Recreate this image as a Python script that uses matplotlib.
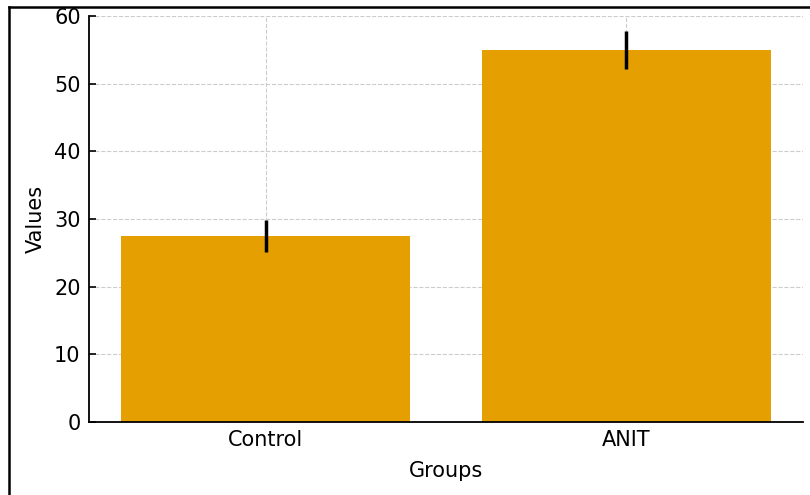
import matplotlib
matplotlib.use("Agg")
import matplotlib.pyplot as plt
from matplotlib.lines import Line2D

groups = ["Control", "ANIT"]
values = [27.5, 55.0]
errors = [2.4, 2.8]
yticks = [0, 10, 20, 30, 40, 50, 60]

fig = plt.figure(figsize=(8.1, 4.95), dpi=100)
ax = fig.add_axes([89/810, 1-422/495, (803-89)/810, (422-16)/495])

x = list(range(len(groups)))
ax.bar(x, values, width=0.8, color="#E69F00", zorder=2)
ax.errorbar(x, values, yerr=errors, fmt="none", ecolor="black", elinewidth=2.5, capsize=0, zorder=3)

ax.set_xticks(x)
ax.set_xticklabels(groups)
ax.set_xlim(-0.49, 1.49)
ax.set_ylim(0, 60)
ax.set_yticks(yticks)
ax.tick_params(direction="in", labelsize=15, length=5, width=1.2, pad=6)
ax.set_xlabel("Groups", fontsize=15, labelpad=8)
ax.set_ylabel("Values", fontsize=15, labelpad=6)
ax.grid(True, linestyle="--", color="#cccccc", linewidth=0.8, zorder=0)
ax.set_axisbelow(True)
for s in ["top", "right"]:
    ax.spines[s].set_visible(False)
for s in ["left", "bottom"]:
    ax.spines[s].set_linewidth(1.3)

# screenshot border
fig.add_artist(Line2D([9/810, 9/810], [0, 1-7/495], transform=fig.transFigure, color="black", linewidth=1.8))
fig.add_artist(Line2D([9/810, 1], [1-7/495, 1-7/495], transform=fig.transFigure, color="black", linewidth=1.8))

fig.savefig("out.png", dpi=100)
